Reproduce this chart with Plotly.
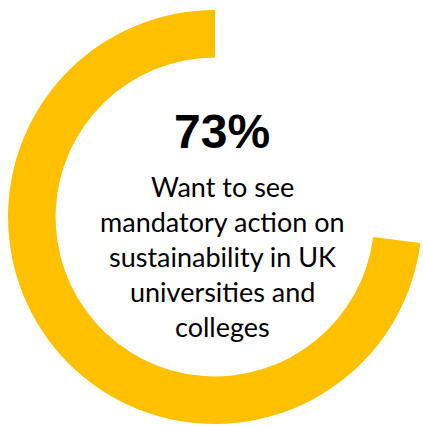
import plotly.graph_objects as go

# Share of respondents (remainder first so the gold arc ends on the right)
labels = ["Other", "Want mandatory action"]
values = [27, 73]
colors = ["rgba(255,255,255,0)", "#FFC000"]

headline = "73%"
caption_lines = [
    "Want to see",
    "mandatory action on",
    "sustainability in UK",
    "universities and",
    "colleges",
]

W, H = 423, 427
cx, cy, r = 215, 217, 207  # ring centre and outer radius in pixels

fig = go.Figure(
    go.Pie(
        labels=labels,
        values=values,
        hole=0.77,
        sort=False,
        direction="counterclockwise",
        rotation=0,
        marker=dict(colors=colors, line=dict(width=0)),
        textinfo="none",
        hoverinfo="skip",
        showlegend=False,
        domain=dict(
            x=[(cx - r) / W, (cx + r) / W],
            y=[(H - cy - r) / H, (H - cy + r) / H],
        ),
    )
)

fig.add_annotation(
    text=f"<b>{headline}</b>",
    x=222 / W, y=1 - 131 / H, xref="paper", yref="paper",
    xanchor="center", yanchor="middle", showarrow=False,
    font=dict(family="Liberation Sans, Arial", size=48, color="#000000"),
)

line_centres = [186, 221, 256, 291, 326]
for txt, yc in zip(caption_lines, line_centres):
    fig.add_annotation(
        text=txt,
        x=222 / W, y=1 - yc / H, xref="paper", yref="paper",
        xanchor="center", yanchor="middle", showarrow=False,
        font=dict(family="Lato, Open Sans, sans-serif", size=27, color="#000000"),
    )

fig.update_layout(
    width=W, height=H,
    margin=dict(l=0, r=0, t=0, b=0),
    paper_bgcolor="white",
    plot_bgcolor="white",
)

fig.write_html("out.html")
